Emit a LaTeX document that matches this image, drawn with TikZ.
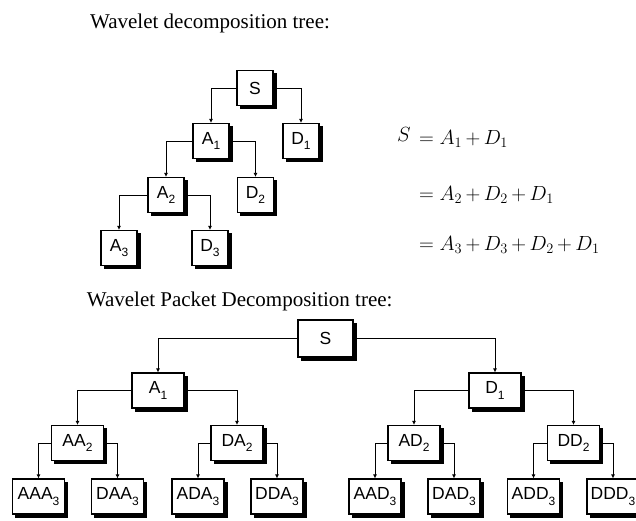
\documentclass[tikz,border=0pt]{standalone}
\usepackage{fix-cm}
\usepackage[no-math]{fontspec}
\setmainfont{Liberation Serif}
\newfontfamily\boxfont{Liberation Sans}
\usetikzlibrary{arrows.meta}
\newcommand\lsub[1]{\raisebox{-0.55ex}{\fontsize{12}{12}\selectfont #1}}
\begin{document}
\begin{tikzpicture}[x=1pt,y=-1pt,
  box/.style={draw, line width=1.1pt, fill=white, inner sep=0pt,
    font=\boxfont\fontsize{17.5}{19}\selectfont,
    preaction={fill=black, draw=black, line width=1.1pt, transform canvas={shift={(3.3pt,-3.3pt)}}}},
  sbox/.style={box, minimum width=36pt, minimum height=35pt},
  wbox/.style={box, minimum width=52pt, minimum height=35pt},
  conn/.style={draw, line width=0.8pt, -{Latex[length=4pt,width=4pt]}},
  title/.style={anchor=base west, inner sep=0pt, font=\fontsize{21}{24}\selectfont},
  eq/.style={anchor=base west, inner sep=0pt, font=\fontsize{20.5}{22}\selectfont}]
\useasboundingbox (0,0) rectangle (636,521);
\fill[white] (0,0) rectangle (636,521);

% titles
\node[title] (t1) at (90,28.3) {Wavelet decomposition tree:};
\node[title] (t2) at (86.7,306.7) {Wavelet Packet Decomposition tree:};

% top tree
\node[sbox] (s)  at (255,88) {S};
\node[sbox] (a1) at (211,141) {A\lsub{1}};
\node[sbox] (d1) at (301,141) {D\lsub{1}};
\node[sbox] (a2) at (166,195) {A\lsub{2}};
\node[sbox] (d2) at (255.5,195) {D\lsub{2}};
\node[sbox] (a3) at (119,248) {A\lsub{3}};
\node[sbox] (d3) at (210,248) {D\lsub{3}};

\path[conn] (s.west) -| (a1.north);
\path[conn] (s.east) -| (d1.north);
\path[conn] (a1.west) -| (a2.north);
\path[conn] (a1.east) -| (d2.north);
\path[conn] (a2.west) -| (a3.north);
\path[conn] (a2.east) -| (d3.north);

% equations
\node[eq] (e1s) at (397,142) {$S$};
\node[eq] (e1) at (419,144.5) {$\medmuskip=3mu = A_1 + D_1$};
\node[eq] (e2) at (419,200.5) {$\medmuskip=3mu = A_2 + D_2 + D_1$};
\node[eq] (e3) at (419,250.5) {$\medmuskip=3mu = A_3 + D_3 + D_2 + D_1$};

% packet tree
\node[box, minimum width=55pt, minimum height=37pt] (ps) at (325.5,338.5) {S};
\node[wbox] (pa1) at (158,390.5) {A\lsub{1}};
\node[wbox] (pd1) at (495,390.5) {D\lsub{1}};
\node[wbox] (paa2) at (77.5,443) {AA\lsub{2}};
\node[wbox] (pda2) at (237,443) {DA\lsub{2}};
\node[wbox] (pad2) at (414,443) {AD\lsub{2}};
\node[wbox] (pdd2) at (573.5,443) {DD\lsub{2}};
\node[wbox] (paaa3) at (38.5,496.5) {AAA\lsub{3}};
\node[wbox] (pdaa3) at (117.5,496.5) {DAA\lsub{3}};
\node[wbox] (pada3) at (198,496.5) {ADA\lsub{3}};
\node[wbox] (pdda3) at (277,496.5) {DDA\lsub{3}};
\node[wbox] (paad3) at (375,496.5) {AAD\lsub{3}};
\node[wbox] (pdad3) at (454,496.5) {DAD\lsub{3}};
\node[wbox] (padd3) at (533.5,496.5) {ADD\lsub{3}};
\node[wbox] (pddd3) at (613,496.5) {DDD\lsub{3}};

\path[conn] (ps.west) -| (pa1.north);
\path[conn] (ps.east) -| (pd1.north);
\path[conn] (pa1.west) -| (paa2.north);
\path[conn] (pa1.east) -| (pda2.north);
\path[conn] (pd1.west) -| (pad2.north);
\path[conn] (pd1.east) -| (pdd2.north);
\path[conn] (paa2.west) -| (paaa3.north);
\path[conn] (paa2.east) -| (pdaa3.north);
\path[conn] (pda2.west) -| (pada3.north);
\path[conn] (pda2.east) -| (pdda3.north);
\path[conn] (pad2.west) -| (paad3.north);
\path[conn] (pad2.east) -| (pdad3.north);
\path[conn] (pdd2.west) -| (padd3.north);
\path[conn] (pdd2.east) -| (pddd3.north);
\end{tikzpicture}
\end{document}
